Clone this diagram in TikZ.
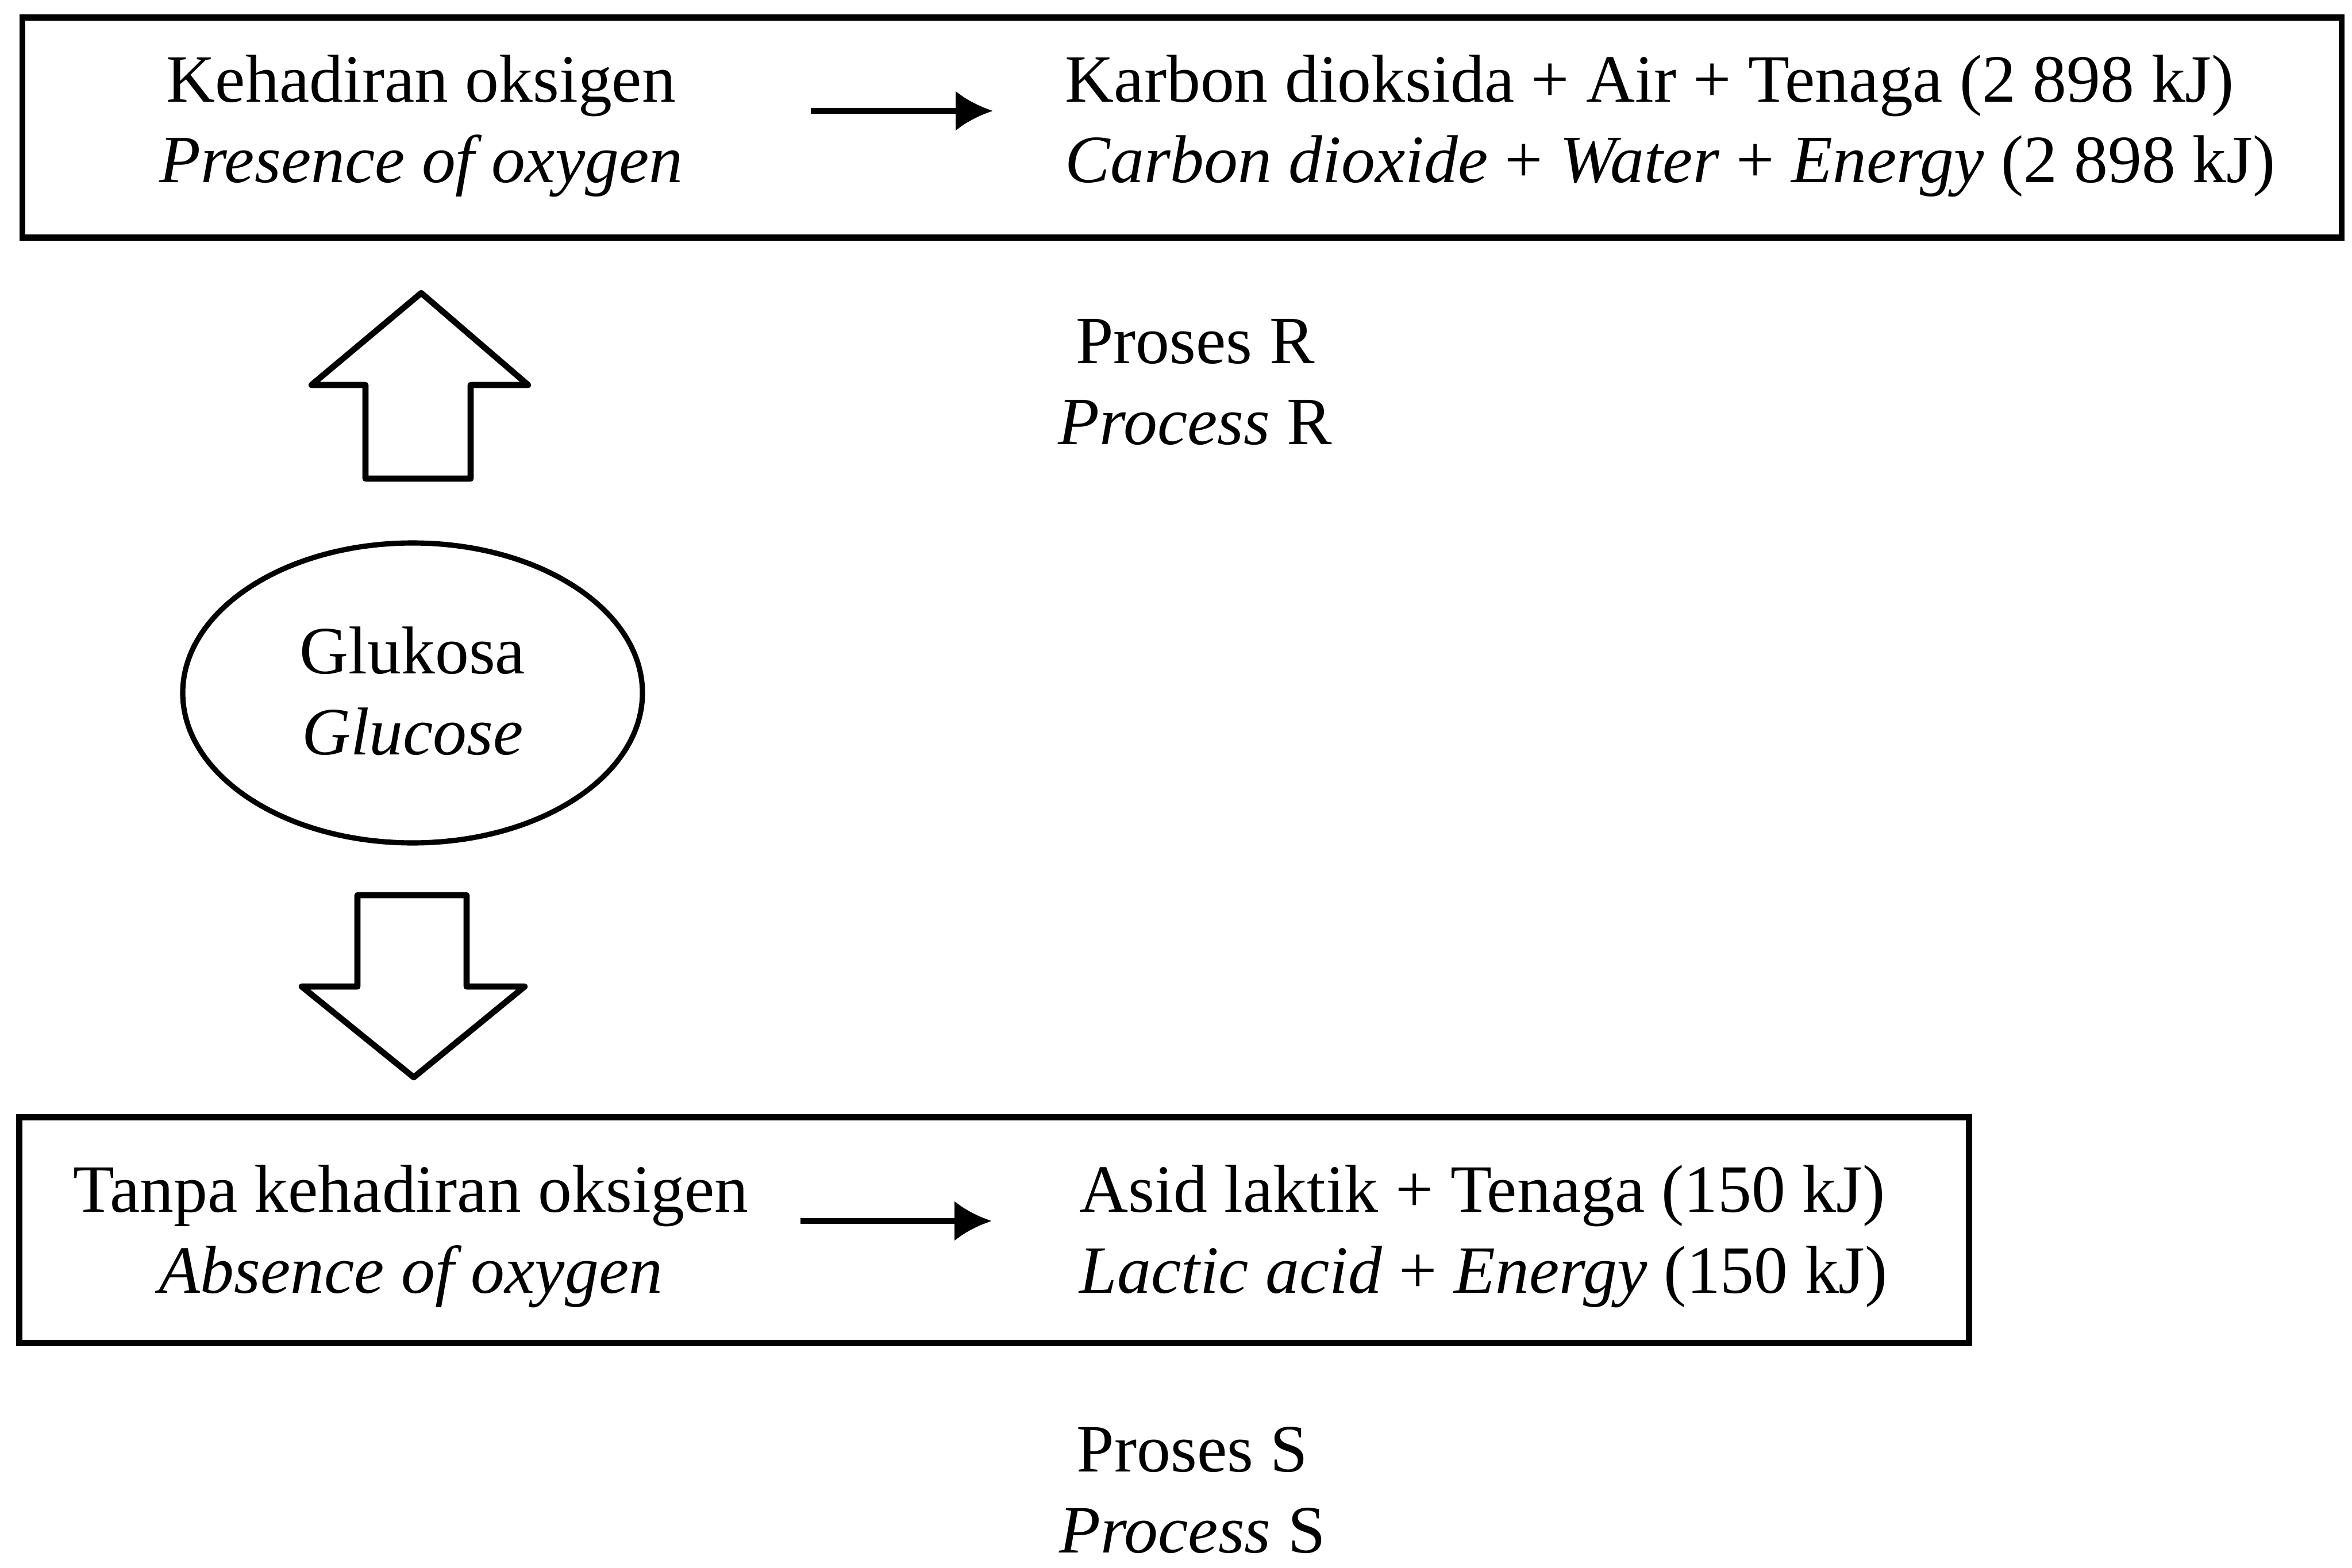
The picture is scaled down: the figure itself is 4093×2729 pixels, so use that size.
\documentclass[tikz,border=0pt]{standalone}
\usepackage{fontspec}
\setmainfont{Liberation Serif}
\usetikzlibrary{arrows.meta,shapes.geometric}
\begin{document}
\begin{tikzpicture}
  [x=0.1mm,y=-0.1mm,
  every node/.style={font=\fontsize{33.5}{40}\selectfont,inner sep=0pt},
  txt/.style={align=center,anchor=base},
  rhs/.style={align=left,anchor=base west},
  box/.style={draw,line width=3pt,inner sep=0pt},
  blk/.style={draw,line width=3pt,line join=round},
  rx/.style={-{Latex[length=6.5mm,width=7mm]},line width=3pt}]
  \useasboundingbox (0,0) rectangle (4093,2729);
  \node[box,minimum width=403.6mm,minimum height=38.3mm] (aer) at (2057,222) {};
  \node[box,minimum width=339.3mm,minimum height=39.3mm] (anaer) at (1730,2141) {};

  \node[txt] (ada) at (733,318) {Kehadiran oksigen\\\textit{Presence of oxygen}};
  \node[rhs] (karbon) at (1853,318) {Karbon dioksida + Air + Tenaga (2 898 kJ)\\
    \textit{Carbon dioxide} + \textit{Water} + \textit{Energy} (2 898 kJ)};
  \node[txt] (prosr) at (2080,773) {Proses R\\\textit{Process} R};

  \node[draw,ellipse,line width=2.6pt,minimum width=80mm,minimum height=52.2mm] (glu) at (718,1206) {};
  \node[txt] (glukosa) at (718,1313) {Glukosa\\\textit{Glucose}};

  \node[txt] (tanpa) at (715,2250) {Tanpa kehadiran oksigen\\\textit{Absence of oxygen}};
  \node[rhs] (asid) at (1878,2250) {Asid laktik + Tenaga (150 kJ)\\
    \textit{Lactic acid} + \textit{Energy} (150 kJ)};
  \node[txt] (pross) at (2075,2702) {Proses S\\\textit{Process} S};

  \coordinate (ry) at (0,193);
  \coordinate (sy) at (0,2125);
  \draw[rx,shorten <=22.2mm,shorten >=12.5mm] (ada.east |- ry) -- (karbon.west |- ry);
  \draw[rx,shorten <=9mm,shorten >=15.2mm] (tanpa.east |- sy) -- (asid.west |- sy);

  \draw[blk] (733,510) -- (919,670) -- (819,670) -- (819,833) -- (636,833) -- (636,670) -- (542,670) -- cycle;
  \draw[blk] (622,1558) -- (812,1558) -- (812,1717) -- (913,1717) -- (720,1875) -- (525,1717) -- (622,1717) -- cycle;
\end{tikzpicture}
\end{document}
